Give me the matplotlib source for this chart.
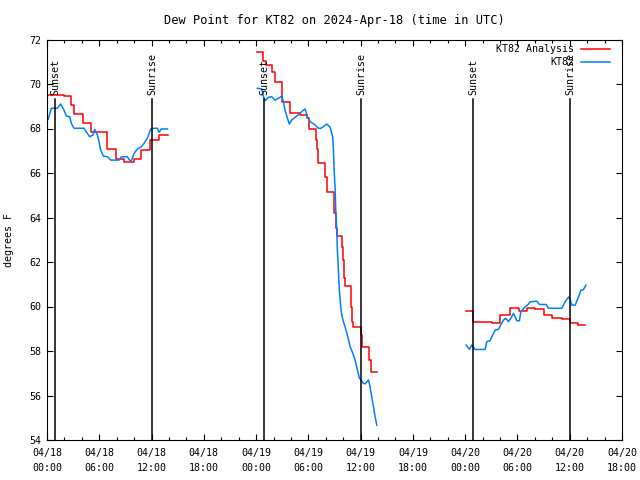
import matplotlib
matplotlib.use('Agg')
import matplotlib.pyplot as plt
import numpy as np

plt.rcParams['font.family'] = 'DejaVu Sans Mono'
plt.rcParams['font.size'] = 7.2

title = 'Dew Point for KT82 on 2024-Apr-18 (time in UTC)'
ylabel = 'degrees F'
# hours since 2024-04-18 00:00 UTC
tick_hours = list(range(0, 67, 6))
tick_labels = ['04/18\n00:00', '04/18\n06:00', '04/18\n12:00', '04/18\n18:00',
               '04/19\n00:00', '04/19\n06:00', '04/19\n12:00', '04/19\n18:00',
               '04/20\n00:00', '04/20\n06:00', '04/20\n12:00', '04/20\n18:00']
sunset_hours = [0.95, 24.95, 48.95]
sunrise_hours = [12.08, 36.08, 60.08]

# KT82 Analysis (red, steps)
an1_t = [0.04, 1.95, 2.79, 3.1, 4.17, 5.1, 6.93, 7.88, 8.84, 10.0, 10.75, 11.83, 12.86, 13.9]
an1_v = [69.52, 69.47, 69.06, 68.65, 68.26, 67.83, 67.08, 66.63, 66.48, 66.63, 67.03, 67.48, 67.71, 67.71]
an2_t = [24.15, 24.84, 25.15, 25.87, 26.17, 26.94, 27.9, 29.05, 29.89, 30.12, 30.84, 31.04, 31.1,
         31.88, 32.1, 32.95, 33.14, 33.26, 33.87, 34.0, 34.1, 34.2, 34.9, 35.05, 35.17, 36.0, 36.1,
         37.0, 37.2, 37.85]
an2_v = [71.45, 71.05, 70.85, 70.55, 70.08, 69.21, 68.71, 68.6, 68.46, 67.96, 67.48, 67.1, 66.46,
         65.84, 65.13, 64.22, 63.51, 63.17, 62.69, 62.09, 61.27, 60.92, 59.99, 59.32, 59.06, 58.72, 58.17,
         57.6, 57.04, 57.04]
an3_t = [48.11, 48.9, 50.02, 51.05, 52.0, 53.15, 54.2, 55.15, 56.03, 57.1, 58.0, 59.09, 60.0, 60.9, 61.77]
an3_v = [59.78, 59.32, 59.29, 59.24, 59.62, 59.92, 59.78, 59.92, 59.87, 59.62, 59.47, 59.42, 59.27, 59.17, 59.17]

# KT82 observations (blue)
ob1_t = [0.12, 0.5, 1.19, 1.57, 1.95, 2.22, 2.6, 2.79, 3.1, 4.25, 4.63, 4.9, 5.28, 5.47, 5.78, 5.97,
         6.16, 6.47, 6.93, 7.31, 8.27, 8.54, 9.22, 9.53, 9.68, 10.0, 10.37, 10.83, 11.13, 11.52, 11.9,
         12.28, 12.67, 12.86, 13.12, 13.82]
ob1_v = [68.41, 68.91, 68.91, 69.1, 68.83, 68.56, 68.53, 68.23, 68.01, 68.01, 67.78, 67.63, 67.71, 67.96,
         67.71, 67.41, 67.03, 66.76, 66.73, 66.58, 66.58, 66.73, 66.73, 66.55, 66.55, 66.88, 67.08, 67.18,
         67.33, 67.56, 67.98, 68.01, 68.01, 67.83, 67.98, 67.98]
ob2_t = [24.15, 24.65, 24.84, 25.03, 25.41, 25.8, 26.17, 26.75, 26.94, 27.13, 27.32, 27.59, 27.82, 28.09,
         28.47, 28.97, 29.24, 29.62, 29.89, 30.2, 30.77, 31.15, 31.42, 31.73, 32.1, 32.49, 32.79, 32.88,
         32.95, 33.07, 33.14, 33.26, 33.33, 33.45, 33.56, 33.72, 33.83, 34.02, 34.21, 34.48, 34.79, 35.1,
         35.36, 35.63, 35.86, 36.05, 36.3, 36.51, 36.9, 37.08, 37.27, 37.47, 37.66, 37.85]
ob2_v = [69.81, 69.78, 69.43, 69.25, 69.4, 69.43, 69.27, 69.4, 69.46, 69.21, 68.83, 68.46, 68.2, 68.38,
         68.5, 68.65, 68.76, 68.88, 68.53, 68.31, 68.16, 68.01, 68.01, 68.08, 68.2, 68.06, 67.64, 67.0,
         66.2, 65.3, 64.33, 63.44, 62.54, 61.64, 60.7, 60.0, 59.62, 59.32, 59.09, 58.72, 58.2, 57.9,
         57.6, 57.15, 56.77, 56.7, 56.55, 56.52, 56.7, 56.4, 55.95, 55.5, 55.05, 54.67]
ob3_t = [48.11, 48.49, 48.76, 48.95, 49.14, 50.29, 50.48, 50.86, 51.05, 51.44, 51.82, 52.09, 52.39, 52.66,
         52.97, 53.23, 53.54, 53.73, 53.92, 54.23, 54.38, 54.61, 54.88, 55.15, 55.45, 56.22, 56.52, 57.29,
         57.56, 59.09, 59.47, 59.86, 60.05, 60.24, 60.62, 61.01, 61.28, 61.58, 61.85]
ob3_v = [58.27, 58.07, 58.27, 58.16, 58.07, 58.07, 58.42, 58.46, 58.64, 58.94, 58.97, 59.17, 59.39, 59.47,
         59.32, 59.47, 59.69, 59.54, 59.36, 59.36, 59.76, 59.87, 59.99, 60.06, 60.21, 60.24, 60.09, 60.09,
         59.92, 59.92, 60.21, 60.43, 60.31, 60.06, 60.06, 60.43, 60.73, 60.76, 60.96]

red = '#ff0000'
blue = '#0080ff'

fig = plt.figure(figsize=(6.4, 4.8), dpi=100)
ax = fig.add_axes([47/640, 40/480, 575/640, 400.5/480])

for t, v in [(an1_t, an1_v), (an2_t, an2_v), (an3_t, an3_v)]:
    ax.plot(t, v, color=red, lw=1.1, drawstyle='steps-post')
for t, v in [(ob1_t, ob1_v), (ob2_t, ob2_v), (ob3_t, ob3_v)]:
    ax.plot(t, v, color=blue, lw=1.1)

tr = ax.get_xaxis_transform()
for hours, name in [(sunset_hours, 'Sunset'), (sunrise_hours, 'Sunrise')]:
    for h in hours:
        ax.axvline(h, ymin=0, ymax=0.851, color='black', lw=1.1)
        ax.text(h, 0.861, name, transform=tr, rotation=90, ha='center', va='bottom')

# legend (right aligned text, gnuplot style)
for y, label, c in [(0.976, 'KT82 Analysis', red), (0.943, 'KT82', blue)]:
    ax.text(0.9165, y, label, transform=ax.transAxes, ha='right', va='center')
    ax.plot([0.9287, 0.979], [y, y], transform=ax.transAxes, color=c, lw=1.1, clip_on=False)

ax.set_xlim(0, 66)
ax.set_ylim(54, 72)
ax.set_xticks(tick_hours)
ax.set_xticklabels(tick_labels, linespacing=1.6)
ax.set_xticks(np.arange(0, 67, 2), minor=True)
ax.set_yticks(range(54, 73, 2))
ax.tick_params(which='major', direction='in', top=True, right=True, length=4, width=0.8)
ax.tick_params(which='minor', direction='in', top=True, length=2.5, width=0.8)
ax.tick_params(axis='x', pad=6)
ax.tick_params(axis='y', pad=4)
for s in ax.spines.values():
    s.set_linewidth(0.8)

ax.set_title(title, pad=11)
ax.set_ylabel(ylabel)
ax.yaxis.set_label_coords(-0.058, 0.5)

fig.savefig('out.png', dpi=100)
